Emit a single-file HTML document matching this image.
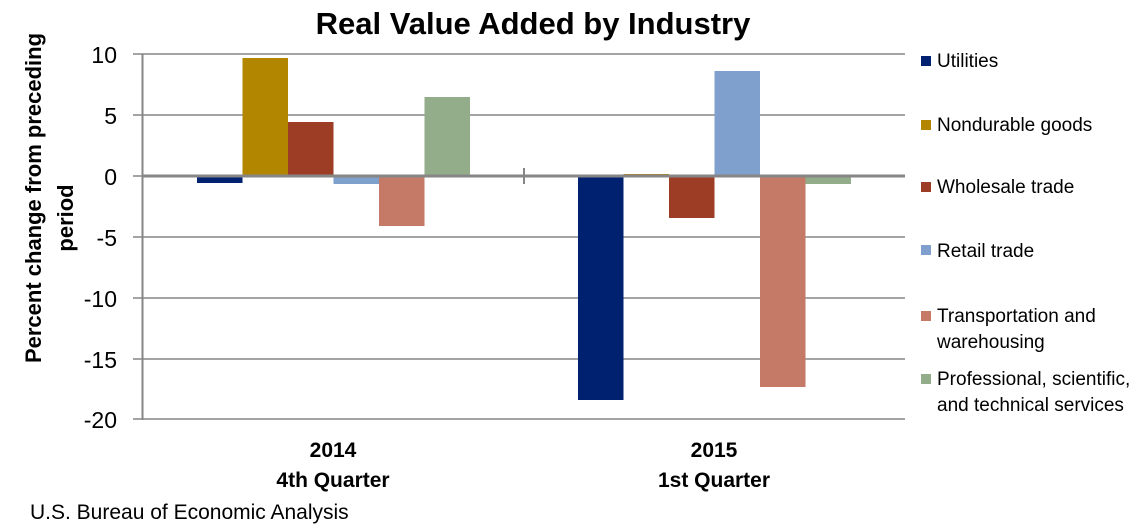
<!DOCTYPE html>
<html><head><meta charset="utf-8"><style>
body{margin:0;background:#fff;}
svg{display:block;font-family:"Liberation Sans",Calibri,sans-serif;}
</style></head><body>
<svg width="1137" height="531" xmlns="http://www.w3.org/2000/svg">
<text x="533" y="34" text-anchor="middle" font-size="31" font-weight="bold" fill="#000">Real Value Added by Industry</text>
<g stroke="#868686" stroke-width="1.5">
<line x1="143" y1="54" x2="905" y2="54"/>
<line x1="143" y1="115" x2="905" y2="115"/>
<line x1="143" y1="237" x2="905" y2="237"/>
<line x1="143" y1="298" x2="905" y2="298"/>
<line x1="143" y1="359" x2="905" y2="359"/>
<line x1="143" y1="419" x2="905" y2="419"/>
<line x1="133" y1="54" x2="143" y2="54"/>
<line x1="133" y1="115" x2="143" y2="115"/>
<line x1="133" y1="176" x2="143" y2="176"/>
<line x1="133" y1="237" x2="143" y2="237"/>
<line x1="133" y1="298" x2="143" y2="298"/>
<line x1="133" y1="359" x2="143" y2="359"/>
<line x1="133" y1="419" x2="143" y2="419"/>
</g>
<line x1="142.5" y1="54" x2="142.5" y2="420" stroke="#868686" stroke-width="2"/>
<rect x="197" y="176" width="45.5" height="7" fill="#002070"/>
<rect x="242.5" y="58" width="45.5" height="118" fill="#b38600"/>
<rect x="288" y="122" width="45.5" height="54" fill="#9e3d26"/>
<rect x="333.5" y="176" width="45.5" height="8" fill="#7f9fcc"/>
<rect x="379" y="176" width="45.5" height="50" fill="#c47a67"/>
<rect x="424.5" y="97" width="45.5" height="79" fill="#93ad8b"/>
<rect x="578" y="176" width="45.5" height="224" fill="#002070"/>
<rect x="623.5" y="174" width="45.5" height="2" fill="#b38600"/>
<rect x="669" y="176" width="45.5" height="42" fill="#9e3d26"/>
<rect x="714.5" y="71" width="45.5" height="105" fill="#7f9fcc"/>
<rect x="760" y="176" width="45.5" height="211" fill="#c47a67"/>
<rect x="805.5" y="176" width="45.5" height="8" fill="#93ad8b"/>
<line x1="143" y1="176" x2="905" y2="176" stroke="#868686" stroke-width="3"/>
<line x1="524" y1="168" x2="524" y2="184" stroke="#868686" stroke-width="2"/>
<g font-size="23" fill="#000" text-anchor="end">
<text x="117" y="63">10</text><text x="117" y="124">5</text><text x="117" y="185">0</text>
<text x="117" y="246">-5</text><text x="117" y="307">-10</text><text x="117" y="368">-15</text><text x="117" y="428">-20</text>
</g>
<g font-size="21" font-weight="bold" text-anchor="middle">
<text transform="translate(41,198) rotate(-90)" font-size="22">Percent change from preceding</text>
<text transform="translate(73,218) rotate(-90)" font-size="22">period</text>
<text x="333" y="457">2014</text><text x="333" y="487">4th Quarter</text>
<text x="714" y="457">2015</text><text x="714" y="487">1st Quarter</text>
</g>
<text x="30" y="519" font-size="21">U.S. Bureau of Economic Analysis</text>
<g font-size="19" fill="#000">
<rect x="921" y="56" width="10" height="10" fill="#002070"/><text x="937" y="67">Utilities</text>
<rect x="921" y="120" width="10" height="10" fill="#b38600"/><text x="937" y="131">Nondurable goods</text>
<rect x="921" y="182" width="10" height="10" fill="#9e3d26"/><text x="937" y="193">Wholesale trade</text>
<rect x="921" y="245" width="10" height="10" fill="#7f9fcc"/><text x="937" y="257">Retail trade</text>
<rect x="921" y="311" width="10" height="10" fill="#c47a67"/><text x="937" y="322">Transportation and</text><text x="937" y="348">warehousing</text>
<rect x="921" y="374" width="10" height="10" fill="#93ad8b"/><text x="937" y="385">Professional, scientific,</text><text x="937" y="411">and technical services</text>
</g>
</svg>
</body></html>
